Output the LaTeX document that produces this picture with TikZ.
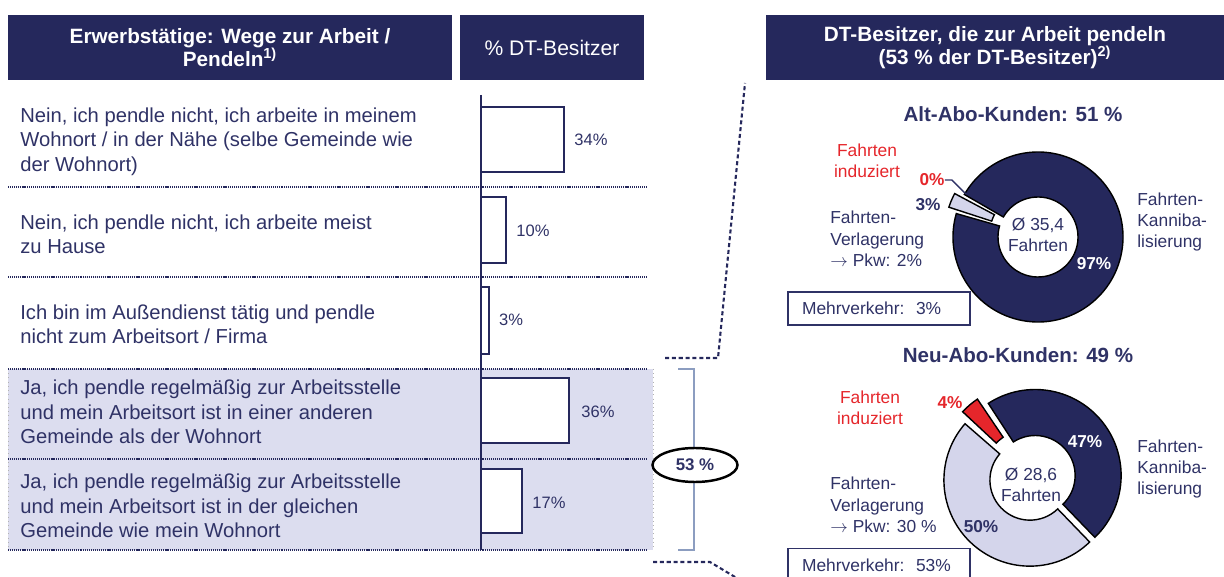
\documentclass[tikz,border=0pt]{standalone}
\usepackage{fontspec}
\setmainfont{Liberation Sans}
\usetikzlibrary{shapes.geometric}
\definecolor{navy}{HTML}{25285C}
\definecolor{ink}{HTML}{2F3266}
\definecolor{lav}{HTML}{D4D5EB}
\definecolor{rowshade}{HTML}{DCDDEF}
\definecolor{steel}{HTML}{8C9DC0}
\definecolor{hot}{HTML}{E5262B}
\begin{document}
\begin{tikzpicture}[x=0.02cm, y=0.02cm,
  header/.style={fill=navy, text=white, align=center, minimum height=1.3cm, inner sep=0pt, font=\fontsize{11.8}{13}\selectfont\bfseries},
  answer/.style={anchor=west, align=left, text=ink, inner sep=0pt, font=\fontsize{11.5}{13.9}\selectfont},
  bar/.style={draw=navy, line width=1.1pt, fill=white},
  value/.style={text=ink, inner sep=1pt, font=\fontsize{9.4}{11}\selectfont},
  rowline/.style={navy, line width=1.3pt, dash pattern=on 0.6pt off 0.5pt},
  note/.style={align=left, text=ink, inner sep=0pt, font=\fontsize{9.9}{12.2}\selectfont},
  rednote/.style={note, text=hot, align=center},
  share/.style={inner sep=0pt, font=\fontsize{9.8}{11}\selectfont\bfseries},
  grouptitle/.style={text=ink, inner sep=0pt, font=\fontsize{11.7}{13}\selectfont\bfseries},
  ring/.style={draw=black, line width=0.8pt},
  lead/.style={navy, line width=1.2pt, dash pattern=on 2.3pt off 1.6pt},
  mvbox/.style={draw=ink, line width=1.1pt, fill=white, text width=3.08cm, inner xsep=0.28cm, minimum height=0.66cm, align=left, text=ink, font=\fontsize{9.9}{11}\selectfont}
]
\useasboundingbox (0,0) rectangle (1224,-577);
\clip (0,0) rectangle (1224,-577);

% headers
\node[header, minimum width=8.88cm] (h1) at (230,-47.5) {Erwerbstätige: Wege zur Arbeit /\\Pendeln\textsuperscript{1)}};
\node[header, minimum width=3.68cm, font=\fontsize{12}{13}\selectfont] (h2) at (552,-47.5) {\% DT-Besitzer};
\node[header, minimum width=9.16cm] (h3) at (995,-47.5) {DT-Besitzer, die zur Arbeit pendeln\\(53 \% der DT-Besitzer)\textsuperscript{2)}};

% commuters block
\fill[rowshade] (8,-369) rectangle (653,-550);
\draw[gray!60, dotted] (8,-369) -- (8,-550);
\draw[gray!60, dotted] (653,-369) -- (653,-550);

\draw[rowline] (8,-187) -- (646,-187);
\draw[rowline] (8,-277) -- (646,-277);
\draw[rowline] (8,-369) -- (646,-369);
\draw[rowline] (8,-459) -- (646,-459);
\draw[rowline] (8,-550) -- (646,-550);

% answers
\node[answer] (r1) at (20,-141.5) {Nein, ich pendle nicht, ich arbeite in meinem\\Wohnort / in der Nähe (selbe Gemeinde wie\\der Wohnort)};
\node[answer] (r2) at (20,-234) {Nein, ich pendle nicht, ich arbeite meist\\zu Hause};
\node[answer] (r3) at (20,-324.5) {Ich bin im Außendienst tätig und pendle\\nicht zum Arbeitsort / Firma};
\node[answer] (r4) at (20,-412) {Ja, ich pendle regelmäßig zur Arbeitsstelle\\und mein Arbeitsort ist in einer anderen\\Gemeinde als der Wohnort};
\node[answer] (r5) at (20,-506) {Ja, ich pendle regelmäßig zur Arbeitsstelle\\und mein Arbeitsort ist in der gleichen\\Gemeinde wie mein Wohnort};

% bars
\draw[bar] (481,-107) rectangle (564,-172);
\draw[bar] (481,-197) rectangle (506,-263);
\draw[bar] (481,-287) rectangle (489,-354);
\draw[bar] (481,-378) rectangle (569,-443);
\draw[bar] (481,-469) rectangle (522,-533);
\draw[navy, line width=0.7pt] (481,-95) -- (481,-550);

\node[value] (v1) at (591,-140) {34\%};
\node[value] (v2) at (533,-231) {10\%};
\node[value] (v3) at (511,-320) {3\%};
\node[value] (v4) at (598,-412) {36\%};
\node[value] (v5) at (549,-503) {17\%};

% bracket and total
\draw[steel, line width=1.6pt] (678,-369) -- (694,-369) -- (694,-550) -- (678,-550);
\node[draw, ellipse, line width=1.4pt, fill=white, minimum width=1.7cm, minimum height=0.68cm, inner sep=0pt, text=ink, font=\fontsize{9.6}{11}\selectfont\bfseries] (tot) at (695,-465) {53 \%};

\coordinate (u1) at (665,-358);
\coordinate (u2) at (718,-358);
\coordinate (u3) at (745,-83);
\draw[lead] (u1) -- (u2) -- (u3);
\coordinate (d1) at (653,-562);
\coordinate (d2) at (710,-562);
\coordinate (d3) at (740,-580);
\draw[lead] (d1) -- (d2) -- (d3);

% Alt-Abo-Kunden
\node[grouptitle] (t1) at (1013,-114) {Alt-Abo-Kunden: 51 \%};
\begin{scope}[shift={(1038,-237)}]
  \filldraw[ring, fill=navy] (164:85) arc[start angle=164, end angle=510, radius=85] -- (510:40) arc[start angle=510, end angle=164, radius=40] -- cycle;
  \filldraw[ring, fill=lav, shift={(157:9)}] (152:85) arc[start angle=152, end angle=162, radius=85] -- (162:40) arc[start angle=162, end angle=152, radius=40] -- cycle;
\end{scope}
\node[note, align=center] (c1) at (1038,-235) {Ø 35,4\\Fahrten};
\node[share, text=white] (s97) at (1094,-264) {97\%};
\node[share, text=hot] (s0) at (932,-180) {0\%};
\node[share, text=ink] (s3) at (928,-205) {3\%};
\coordinate (z0) at (966,-194);
\draw[ink, line width=0.8pt] (s0.east) -- ++(7,0) -- (z0);
\node[rednote] (i1) at (867,-161) {Fahrten\\induziert};
\node[note, anchor=west] (l1) at (830,-239) {Fahrten-\\Verlagerung\\$\rightarrow$ Pkw: 2\%};
\node[note, anchor=west] (k1) at (1137,-222) {Fahrten-\\Kanniba-\\lisierung};
\node[mvbox] (m1) at (879,-308.5) {Mehrverkehr:\ \ 3\%};

% Neu-Abo-Kunden
\node[grouptitle] (t2) at (1018,-355) {Neu-Abo-Kunden: 49 \%};
\begin{scope}[shift={(1032,-478)}]
  \filldraw[ring, fill=navy, shift={(38.5:4)}] (-46:86) arc[start angle=-46, end angle=123, radius=86] -- (123:40) arc[start angle=123, end angle=-46, radius=40] -- cycle;
  \filldraw[ring, fill=hot, shift={(130.5:10)}] (124:86) arc[start angle=124, end angle=137, radius=86] -- (137:40) arc[start angle=137, end angle=124, radius=40] -- cycle;
  \filldraw[ring, fill=lav, shift={(226:3)}] (139:86) arc[start angle=139, end angle=314, radius=86] -- (314:40) arc[start angle=314, end angle=139, radius=40] -- cycle;
\end{scope}
\node[note, align=center] (c2) at (1031,-485) {Ø 28,6\\Fahrten};
\node[share, text=white] (s47) at (1085,-442) {47\%};
\node[share, text=ink] (s50) at (981,-527) {50\%};
\node[share, text=hot] (s4) at (950,-403) {4\%};
\node[rednote] (i2) at (870,-408) {Fahrten\\induziert};
\node[note, anchor=west] (l2) at (830,-505) {Fahrten-\\Verlagerung\\$\rightarrow$ Pkw: 30 \%};
\node[note, anchor=west] (k2) at (1137,-469) {Fahrten-\\Kanniba-\\lisierung};
\node[mvbox] (m2) at (879,-565) {Mehrverkehr:\ \ 53\%};
\end{tikzpicture}
\end{document}
